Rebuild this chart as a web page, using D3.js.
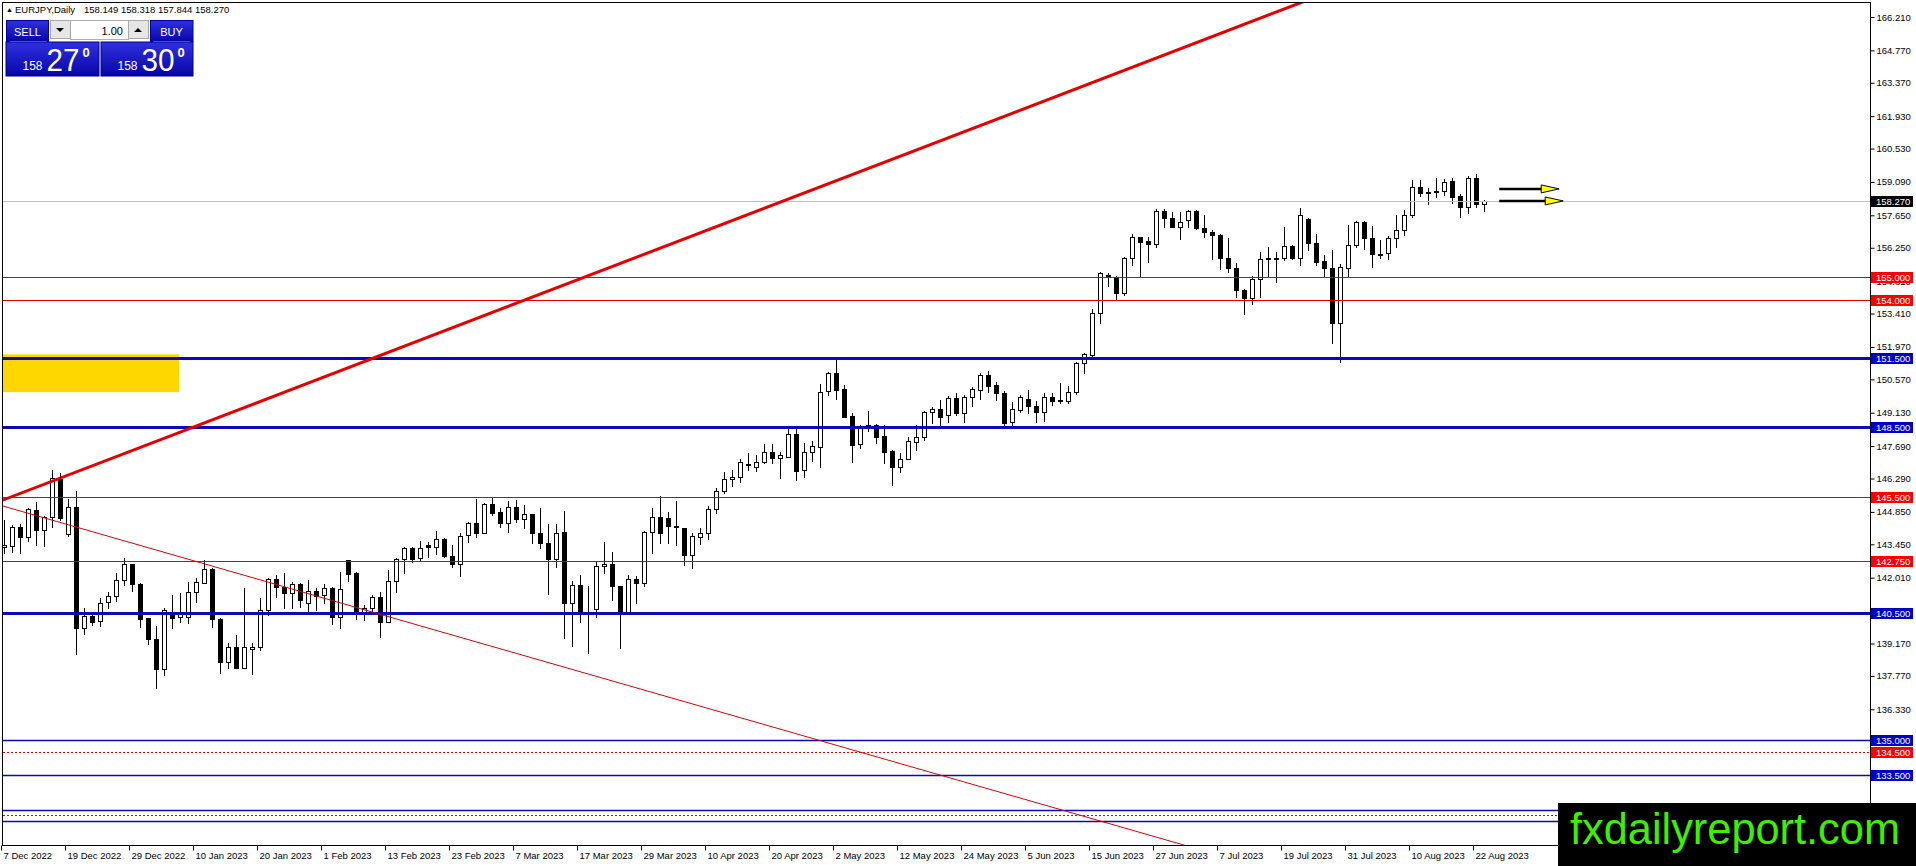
<!DOCTYPE html>
<html>
<head>
<meta charset="utf-8">
<title>EURJPY, Daily</title>
<script src="https://cdn.jsdelivr.net/npm/d3@7"></script>
<style>
  html, body { margin: 0; padding: 0; background: #fff; overflow: hidden; }
  svg { display: block; font-family: "Liberation Sans", Arial, sans-serif; }
</style>
</head>
<body>
<svg id="chart" width="1916" height="866"></svg>
<script>
// daily bars 7 Dec 2022 .. 23 Aug 2023, [open, high, low, close]
var candles = [
  [143.32,144.50,143.06,143.42], [143.39,144.28,143.13,144.18], [144.18,144.31,143.06,143.75], [143.75,145.03,143.61,144.96],
  [144.92,145.29,143.42,144.05], [144.05,144.69,143.39,144.61], [144.61,146.66,144.21,146.30], [146.27,146.51,144.50,144.60],
  [143.88,145.39,143.81,145.07], [145.07,145.75,138.70,139.82], [139.82,140.69,139.56,140.36], [140.36,140.54,139.97,140.11],
  [140.14,141.12,139.94,140.90], [140.95,141.41,140.69,141.22], [141.21,142.20,141.00,141.90], [141.90,142.87,141.69,142.59],
  [142.59,142.59,141.45,141.72], [141.72,141.77,139.90,140.21], [140.26,140.28,139.16,139.35], [139.35,139.92,137.26,138.05],
  [138.05,140.69,137.81,140.61], [140.47,141.26,139.85,140.26], [140.30,141.36,140.08,140.47], [140.33,141.81,140.07,141.41],
  [141.41,141.98,140.97,141.81], [141.80,142.77,141.80,142.39], [142.39,142.44,139.90,140.21], [140.23,140.28,137.91,138.36],
  [138.36,139.18,138.13,139.00], [139.00,139.54,138.10,138.10], [138.10,141.58,138.10,139.00], [138.95,139.20,137.85,139.00],
  [139.03,141.12,138.89,140.62], [140.62,141.98,140.40,141.94], [141.94,142.13,141.16,141.59], [141.59,142.20,140.69,141.33],
  [141.33,141.84,140.69,141.72], [141.72,141.77,140.73,141.05], [140.93,141.91,140.50,141.44], [141.44,141.55,140.62,141.22],
  [141.26,141.72,140.90,141.55], [141.55,141.62,140.00,140.30], [140.30,142.27,139.82,141.51], [142.76,142.77,141.88,142.17],
  [142.23,142.27,140.21,140.47], [140.50,140.83,140.18,140.69], [140.69,141.26,140.54,141.16], [141.16,141.41,139.46,140.11],
  [140.11,142.34,140.11,141.87], [141.87,142.84,141.41,142.80], [142.80,143.35,142.23,143.28], [143.28,143.35,142.70,142.82],
  [142.84,143.61,142.77,143.30], [143.41,143.56,142.92,143.32], [143.32,144.04,143.03,143.67], [143.67,143.71,142.92,142.96],
  [142.96,143.42,142.46,142.60], [142.60,143.92,142.08,143.81], [143.85,144.43,143.56,144.36], [144.36,145.39,143.78,143.92],
  [143.92,145.25,143.92,145.18], [145.18,145.48,144.72,144.82], [144.86,145.00,144.21,144.36], [144.38,145.33,143.99,145.05],
  [145.05,145.36,144.43,144.56], [144.56,145.15,144.14,144.74], [144.74,144.74,143.52,143.95], [143.95,145.00,143.28,143.49],
  [143.49,144.31,141.31,142.80], [142.80,144.33,142.48,143.95], [143.99,144.90,139.39,140.93], [140.93,141.88,139.06,141.68],
  [141.68,142.12,140.08,140.50], [140.66,141.65,138.74,140.66], [140.64,142.70,140.33,142.52], [142.52,143.54,142.20,142.60],
  [142.60,143.10,141.05,141.65], [141.65,141.65,138.96,140.50], [140.50,142.12,140.50,141.94], [141.95,142.08,140.93,141.79],
  [141.79,144.04,141.66,143.97], [143.97,145.00,143.06,144.62], [144.62,145.53,143.52,143.92], [144.57,144.86,143.52,144.26],
  [144.24,145.32,143.42,144.20], [144.14,144.14,142.56,142.99], [142.99,143.92,142.44,143.81], [143.78,144.14,143.46,143.95],
  [143.95,145.10,143.68,144.96], [144.96,145.87,144.79,145.77], [145.77,146.56,145.68,146.25], [146.25,146.66,145.98,146.34],
  [146.34,147.12,146.15,146.99], [146.90,147.38,146.66,146.86], [146.80,147.30,146.63,147.02], [147.02,147.78,146.94,147.45],
  [147.45,147.78,146.94,147.16], [147.16,147.45,146.30,147.30], [147.20,148.41,147.20,148.20], [148.20,148.56,146.23,146.63],
  [146.66,147.84,146.37,147.45], [147.45,147.92,147.06,147.69], [147.66,150.37,146.80,150.01], [150.08,150.90,149.89,150.86],
  [150.86,151.48,149.71,150.11], [150.14,150.33,148.96,148.96], [148.99,149.10,147.02,147.74], [147.77,148.60,147.59,148.50],
  [148.58,149.22,148.35,148.56], [148.60,148.64,147.81,148.10], [148.13,148.60,146.94,147.45], [147.48,147.52,146.01,146.77],
  [146.77,147.38,146.58,147.12], [147.12,148.10,147.12,147.91], [147.88,148.60,147.52,148.07], [148.07,149.22,147.95,149.15],
  [149.15,149.39,148.67,149.28], [149.28,149.68,148.60,148.96], [149.03,149.85,148.74,149.75], [149.75,149.97,149.03,149.13],
  [149.13,149.89,148.74,149.82], [149.82,150.23,149.42,150.14], [150.11,150.86,149.71,150.76], [150.76,150.94,150.04,150.28],
  [150.33,150.47,149.68,149.97], [149.99,150.05,148.55,148.70], [148.75,149.61,148.60,149.28], [149.25,149.89,149.17,149.79],
  [149.72,150.11,149.10,149.42], [149.43,149.64,148.75,149.18], [149.18,149.97,148.78,149.82], [149.82,149.97,149.46,149.63],
  [149.66,150.40,149.53,149.63], [149.65,150.28,149.53,150.04], [150.01,151.33,149.94,151.26], [151.26,151.69,150.83,151.66],
  [151.62,153.59,151.55,153.45], [153.45,155.22,153.02,155.17], [155.07,155.17,154.60,154.97], [155.00,155.03,153.99,154.31],
  [154.31,155.84,154.21,155.79], [155.79,156.84,155.50,156.70], [156.70,156.73,154.97,156.51], [156.54,156.70,155.65,156.40],
  [156.40,157.91,156.30,157.84], [157.84,157.91,157.16,157.55], [157.55,157.81,157.16,157.16], [157.16,157.81,156.61,157.38],
  [157.45,157.88,157.16,157.84], [157.84,157.88,157.04,157.09], [157.09,157.66,156.70,156.91], [156.94,157.01,155.75,156.80],
  [156.80,156.84,155.32,155.79], [155.79,156.66,155.22,155.36], [155.36,155.61,154.11,154.43], [154.43,154.45,153.37,154.07],
  [154.07,155.03,153.81,154.89], [154.89,156.08,154.11,155.75], [155.78,156.27,154.97,155.81], [155.78,156.08,154.79,155.81],
  [155.79,157.13,155.72,156.34], [156.33,156.35,155.75,155.79], [155.79,157.95,155.50,157.66], [157.48,157.52,156.15,156.44],
  [156.44,156.84,155.50,155.65], [155.69,155.94,155.03,155.36], [155.36,156.15,152.13,152.99], [152.99,155.55,151.33,155.40],
  [155.36,157.23,155.00,156.35], [156.37,157.42,156.30,157.35], [157.35,157.42,156.18,156.66], [156.66,157.19,155.43,155.97],
  [155.97,156.58,155.79,155.92], [156.01,156.76,155.75,156.66], [156.66,157.66,156.27,157.02], [157.02,157.88,156.80,157.66],
  [157.66,159.17,157.56,158.86], [158.86,159.17,158.48,158.60], [158.64,158.81,158.12,158.60], [158.64,159.25,158.45,158.70],
  [158.70,159.20,158.53,159.10], [159.13,159.25,158.17,158.45], [158.48,158.57,157.56,157.99], [157.99,159.35,157.73,159.25],
  [159.25,159.43,157.99,158.12], [158.149,158.318,157.844,158.270]
];

// one label every 8 bars
var dateLabels = ["7 Dec 2022", "19 Dec 2022", "29 Dec 2022", "10 Jan 2023", "20 Jan 2023", "1 Feb 2023",
  "13 Feb 2023", "23 Feb 2023", "7 Mar 2023", "17 Mar 2023", "29 Mar 2023", "10 Apr 2023", "20 Apr 2023",
  "2 May 2023", "12 May 2023", "24 May 2023", "5 Jun 2023", "15 Jun 2023", "27 Jun 2023", "7 Jul 2023",
  "19 Jul 2023", "31 Jul 2023", "10 Aug 2023", "22 Aug 2023"];

// scale labels that are visible (the rest sit under the level tags / logo)
var priceTicks = [166.21, 164.77, 163.37, 161.93, 160.53, 159.09, 157.65, 156.25, 154.81, 153.41, 151.97,
  150.57, 149.13, 147.69, 146.29, 144.85, 143.45, 142.01, 139.17, 137.77, 136.33];

var levels = [155, 154, 151.5, 148.5, 145.5, 142.75, 140.5, 135, 134.5, 133.5, 132, 131.75, 131.5];
var levelKinds = ["red", "red", "blue", "blue", "red", "red", "blue", "blueThin", "redDot", "blueThin", "blueThin", "redDot", "blueThin"];

var lastPrice = 158.270;
var headerValues = ["158.149", "158.318", "157.844", "158.270"];

// trend lines as [bar, price] anchor pairs (rays)
var trendThick = [[0, 145.38], [160, 166.55]];
var trendThin = [[0, 145.09], [147, 130.52]];

var zoneBars = [-0.5, 21.9];
var zonePrices = [150.02, 151.65];

var arrowPrices = [158.79, 158.27];
var arrowFrom = [186.9, 186.9];
var arrowTo = [194.4, 194.9];

var plotL = 3, plotT = 3, plotR = 1870, plotB = 845;
var logoTop = 803;

var svg = d3.select("#chart");
var defs = svg.append("defs");
defs.append("clipPath").attr("id", "plot")
  .append("rect").attr("x", plotL).attr("y", plotT).attr("width", plotR - plotL).attr("height", plotB - plotT);

var x = d3.scaleLinear().domain([0, 185]).range([4, 1484]);
var y = d3.scaleLinear().domain([130.473, 166.813]).range([plotB, plotT]);

var plot = svg.append("g").attr("clip-path", "url(#plot)");

// yellow zone
plot.append("rect")
  .attr("x", x(zoneBars[0])).attr("width", x(zoneBars[1]) - x(zoneBars[0]))
  .attr("y", y(zonePrices[1])).attr("height", y(zonePrices[0]) - y(zonePrices[1]))
  .attr("fill", "#ffd700");

// candles
var bars = plot.append("g").selectAll("g").data(candles).enter().append("g")
  .attr("transform", function(d, i) { return "translate(" + Math.round(x(i)) + ",0)"; });

bars.append("line")
  .attr("x1", 0.5).attr("x2", 0.5)
  .attr("y1", function(d) { return Math.round(y(d[1])); })
  .attr("y2", function(d) { return Math.round(y(d[2])) + 1; })
  .attr("stroke", "#000").attr("stroke-width", 1);

bars.append("rect")
  .attr("x", -1.5).attr("width", 4)
  .attr("y", function(d) { return Math.round(y(Math.max(d[0], d[3]))) + 0.5; })
  .attr("height", function(d) { return Math.max(0, Math.round(y(Math.min(d[0], d[3]))) - Math.round(y(Math.max(d[0], d[3])))); })
  .attr("fill", function(d) { return d[3] >= d[0] ? "#fff" : "#000"; })
  .attr("stroke", "#000").attr("stroke-width", 1);

// horizontal levels
var levelStyle = {
  red:      { stroke: "#e00000", width: 1,   dash: null,  label: "#ff0000" },
  redDot:   { stroke: "#e00000", width: 1,   dash: "2,2", label: "#ff0000" },
  blue:     { stroke: "#0b0bb0", width: 3,   dash: null,  label: "#0000cc" },
  blueThin: { stroke: "#0b0bb0", width: 1.5, dash: null,  label: "#0000cc" }
};

plot.append("g").selectAll("line").data(levels).enter().append("line")
  .attr("x1", plotL).attr("x2", plotR)
  .attr("y1", function(d) { return Math.round(y(d)) + 0.5; })
  .attr("y2", function(d) { return Math.round(y(d)) + 0.5; })
  .attr("stroke", function(d, i) { return levelStyle[levelKinds[i]].stroke; })
  .attr("stroke-width", function(d, i) { return levelStyle[levelKinds[i]].width; })
  .attr("stroke-dasharray", function(d, i) { return levelStyle[levelKinds[i]].dash; });

// current price line
plot.append("line")
  .attr("x1", plotL).attr("x2", plotR)
  .attr("y1", Math.round(y(lastPrice)) + 0.5).attr("y2", Math.round(y(lastPrice)) + 0.5)
  .attr("stroke", "#c0c0c0").attr("stroke-width", 1);

// trend lines
function ray(t) {
  var slope = (t[1][1] - t[0][1]) / (t[1][0] - t[0][0]);
  return [-2, 260].map(function(b) { return [b, t[0][1] + slope * (b - t[0][0])]; });
}
var trendPath = d3.line().x(function(d) { return x(d[0]); }).y(function(d) { return y(d[1]); });

plot.append("path").attr("d", trendPath(ray(trendThin)))
  .attr("fill", "none").attr("stroke", "#e00000").attr("stroke-width", 1);
plot.append("path").attr("d", trendPath(ray(trendThick)))
  .attr("fill", "none").attr("stroke", "#e80000").attr("stroke-width", 3);

// arrows
arrowPrices.forEach(function(p, i) {
  var ay = y(p), x0 = x(arrowFrom[i]), tip = x(arrowTo[i]);
  plot.append("line").attr("x1", x0).attr("x2", tip - 17).attr("y1", ay).attr("y2", ay)
    .attr("stroke", "#000").attr("stroke-width", 2.5);
  plot.append("path")
    .attr("d", "M" + (tip - 18) + "," + (ay - 4) + "L" + tip + "," + ay + "L" + (tip - 18) + "," + (ay + 4) + "Z")
    .attr("fill", "#ffff00").attr("stroke", "#000").attr("stroke-width", 1);
});

// frame
svg.append("rect").attr("x", plotL - 0.5).attr("y", plotT - 0.5)
  .attr("width", plotR - plotL + 1).attr("height", plotB - plotT + 1)
  .attr("fill", "none").attr("stroke", "#000").attr("stroke-width", 1);

// price axis
var yAxis = svg.append("g").attr("transform", "translate(" + (plotR + 0.5) + ",0)")
  .call(d3.axisRight(y).tickValues(priceTicks).tickSize(4).tickSizeOuter(0).tickPadding(2)
    .tickFormat(d3.format(".3f")));
yAxis.select(".domain").remove();
yAxis.attr("font-family", "Liberation Sans, Arial, sans-serif").attr("font-size", 9.5);

// time axis
var xAxis = svg.append("g").attr("transform", "translate(0," + (plotB + 0.5) + ")")
  .call(d3.axisBottom(x).tickValues(d3.range(0, 185, 8)).tickSize(5).tickSizeOuter(0).tickPadding(2)
    .tickFormat(function(d) { return dateLabels[d / 8]; }));
xAxis.select(".domain").remove();
xAxis.attr("font-family", "Liberation Sans, Arial, sans-serif").attr("font-size", 9.5);
xAxis.selectAll(".tick line").attr("transform", "translate(-3,0)");
xAxis.selectAll(".tick text").attr("text-anchor", "start").attr("x", -1);

// level tags on the price axis (those under the logo are hidden anyway)
var tags = svg.append("g").attr("font-size", 9.5);
levels.forEach(function(p, i) {
  var ly = Math.round(y(p));
  if (ly + 6 > logoTop) return;
  tags.append("rect").attr("x", plotR + 1).attr("y", ly - 5).attr("width", 42).attr("height", 11)
    .attr("fill", levelStyle[levelKinds[i]].label);
  tags.append("text").attr("x", plotR + 6).attr("y", ly + 4).attr("fill", "#fff").text(d3.format(".3f")(p));
});
var ly0 = Math.round(y(lastPrice));
tags.append("rect").attr("x", plotR + 1).attr("y", ly0 - 5).attr("width", 42).attr("height", 11).attr("fill", "#000");
tags.append("text").attr("x", plotR + 6).attr("y", ly0 + 4).attr("fill", "#fff").text(d3.format(".3f")(lastPrice));

// header
var head = svg.append("g").attr("font-size", 9.5).attr("fill", "#000");
head.append("text").attr("x", 6).attr("y", 12).attr("font-size", 7).text("\u25B2");
head.append("text").attr("x", 15).attr("y", 13).text("EURJPY,Daily");
head.append("text").attr("x", 84).attr("y", 13).text(headerValues.join(" "));

// one-click trading panel
var grad = defs.append("linearGradient").attr("id", "btn").attr("x1", 0).attr("y1", 0).attr("x2", 0).attr("y2", 1);
grad.append("stop").attr("offset", "0%").attr("stop-color", "#3030e0");
grad.append("stop").attr("offset", "100%").attr("stop-color", "#0606a6");

var panel = svg.append("g");
panel.append("rect").attr("x", 6).attr("y", 20).attr("width", 187).attr("height", 56).attr("fill", "#fff");
[[6.5, 42], [150.5, 42.5]].forEach(function(b) {
  panel.append("rect").attr("x", b[0]).attr("y", 20.5).attr("width", b[1]).attr("height", 21)
    .attr("fill", "url(#btn)").attr("stroke", "#0000a0");
});
panel.append("line").attr("x1", 10).attr("x2", 47).attr("y1", 41.5).attr("y2", 41.5).attr("stroke", "#9a9ae8");
panel.append("line").attr("x1", 153).attr("x2", 190).attr("y1", 41.5).attr("y2", 41.5).attr("stroke", "#9a9ae8");
panel.append("text").attr("x", 27.5).attr("y", 36).attr("text-anchor", "middle").attr("fill", "#fff")
  .attr("font-size", 11).text("SELL");
panel.append("text").attr("x", 171.5).attr("y", 36).attr("text-anchor", "middle").attr("fill", "#fff")
  .attr("font-size", 11).text("BUY");
panel.append("rect").attr("x", 70.5).attr("y", 20.5).attr("width", 58).attr("height", 19).attr("fill", "#fff").attr("stroke", "#b0b0b0");
[[50.5, "M56,28L64,28L60,32Z"], [128.5, "M134,32L142,32L138,28Z"]].forEach(function(s) {
  panel.append("rect").attr("x", s[0]).attr("y", 20.5).attr("width", 20).attr("height", 18)
    .attr("fill", "#e6e6e6").attr("stroke", "#a8a8a8");
  panel.append("path").attr("d", s[1]).attr("fill", "#000");
});
panel.append("text").attr("x", 123).attr("y", 35).attr("text-anchor", "end").attr("font-size", 11).text("1.00");

[[6, 93, "27"], [101, 92, "30"]].forEach(function(q) {
  panel.append("rect").attr("x", q[0]).attr("y", 42).attr("width", q[1]).attr("height", 34)
    .attr("fill", "url(#btn)").attr("stroke", "#00008a");
  panel.append("text").attr("x", q[0] + 16.5).attr("y", 70).attr("fill", "#fff").attr("font-size", 12).text("158");
  panel.append("text").attr("x", q[0] + 40.5).attr("y", 71).attr("fill", "#fff").attr("font-size", 32)
    .attr("textLength", 33).attr("lengthAdjust", "spacingAndGlyphs").text(q[2]);
  panel.append("text").attr("x", q[0] + 76.5).attr("y", 56.5).attr("fill", "#fff").attr("font-size", 13)
    .attr("font-weight", "bold").text("0");
});

// logo
svg.append("rect").attr("x", 1558).attr("y", logoTop).attr("width", 358).attr("height", 63).attr("fill", "#000");
svg.append("text").attr("x", 1570).attr("y", 844).attr("font-size", 44).attr("fill", "#3cf000")
  .attr("textLength", 330).attr("lengthAdjust", "spacingAndGlyphs").text("fxdailyreport.com");
</script>
</body>
</html>
